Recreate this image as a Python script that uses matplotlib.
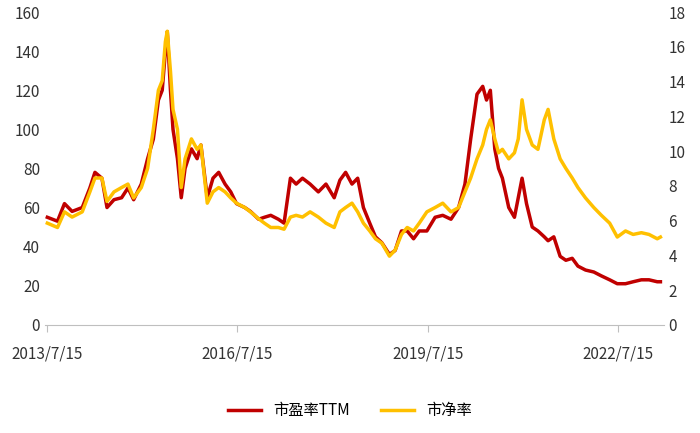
import matplotlib
matplotlib.use("Agg")
import matplotlib.pyplot as plt

plt.rcParams['font.family'] = ['Noto Sans CJK SC', 'DejaVu Sans']

# decimal years
years = [2013.54, 2013.70, 2013.81, 2013.93, 2014.09, 2014.21, 2014.29, 2014.40, 2014.48, 2014.59,
         2014.71, 2014.81, 2014.90, 2015.02, 2015.12, 2015.21, 2015.29, 2015.35, 2015.40, 2015.43,
         2015.48, 2015.52, 2015.59, 2015.65, 2015.71, 2015.81, 2015.90, 2015.96, 2016.06, 2016.15,
         2016.24, 2016.34, 2016.43, 2016.52, 2016.65, 2016.74, 2016.87, 2016.96, 2017.06, 2017.18,
         2017.27, 2017.37, 2017.46, 2017.56, 2017.68, 2017.81, 2017.93, 2018.06, 2018.15, 2018.24,
         2018.34, 2018.43, 2018.52, 2018.62, 2018.71, 2018.81, 2018.93, 2019.02, 2019.12, 2019.21,
         2019.31, 2019.40, 2019.52, 2019.65, 2019.77, 2019.90, 2020.02, 2020.12, 2020.21, 2020.31,
         2020.40, 2020.46, 2020.52, 2020.59, 2020.65, 2020.71, 2020.81, 2020.90, 2020.96, 2021.02,
         2021.09, 2021.18, 2021.27, 2021.37, 2021.43, 2021.52, 2021.62, 2021.71, 2021.81, 2021.90,
         2022.02, 2022.15, 2022.27, 2022.40, 2022.52, 2022.65, 2022.77, 2022.90, 2023.02, 2023.15,
         2023.20]

pe = [55, 53, 62, 58, 60, 70, 78, 75, 60, 64,
      65, 70, 64, 72, 85, 95, 115, 120, 140, 150,
      120, 100, 85, 65, 80, 90, 85, 92, 65, 75,
      78, 72, 68, 62, 60, 58, 54, 55, 56, 54,
      52, 75, 72, 75, 72, 68, 72, 65, 74, 78,
      72, 75, 60, 52, 45, 42, 36, 38, 48, 48,
      44, 48, 48, 55, 56, 54, 60, 72, 95, 118,
      122, 115, 120, 90, 80, 75, 60, 55, 65, 75,
      62, 50, 48, 45, 43, 45, 35, 33, 34, 30,
      28, 27, 25, 23, 21, 21, 22, 23, 23, 22,
      22]

pb = [5.85, 5.6, 6.5, 6.2, 6.5, 7.65, 8.45, 8.45, 7.1, 7.65,
      7.9, 8.1, 7.3, 7.9, 9.0, 11.25, 13.5, 14.05, 16.3, 16.9,
      14.6, 12.4, 11.25, 7.9, 9.55, 10.7, 10.1, 10.35, 7.0, 7.65,
      7.9, 7.65, 7.3, 7.0, 6.75, 6.5, 6.1, 5.85, 5.6, 5.6,
      5.5, 6.2, 6.3, 6.2, 6.5, 6.2, 5.85, 5.6, 6.5, 6.75,
      7.0, 6.5, 5.85, 5.4, 4.95, 4.7, 3.95, 4.3, 5.2, 5.6,
      5.4, 5.85, 6.5, 6.75, 7.0, 6.5, 6.75, 7.65, 8.45, 9.55,
      10.35, 11.25, 11.8, 10.7, 9.9, 10.1, 9.55, 9.9, 10.7, 12.95,
      11.25, 10.35, 10.1, 11.8, 12.4, 10.7, 9.55, 9.0, 8.45, 7.9,
      7.3, 6.75, 6.3, 5.85, 5.05, 5.4, 5.2, 5.3, 5.2, 4.95,
      5.05]

tick_pos = [2013.536, 2016.536, 2019.536, 2022.536]
tick_labels = ['2013/7/15', '2016/7/15', '2019/7/15', '2022/7/15']

fig = plt.figure(figsize=(7, 4.33), dpi=100)
ax = fig.add_axes([0.064, 0.25, 0.884, 0.722])
ax2 = ax.twinx()

l1, = ax.plot(years, pe, color='#C00000', lw=2.5, label='市盈率TTM')
l2, = ax2.plot(years, pb, color='#FFC000', lw=2.5, label='市净率')

ax.set_ylim(0, 160)
ax.set_yticks(range(0, 161, 20))
ax2.set_ylim(0, 18)
ax2.set_yticks(range(0, 19, 2))
ax.set_xlim(2013.5, 2023.25)
ax.set_xticks(tick_pos)
ax.set_xticklabels(tick_labels)

for a in (ax, ax2):
    for s in ('top', 'left', 'right'):
        a.spines[s].set_visible(False)
    a.tick_params(axis='y', length=0, labelsize=11, colors='#333333')
ax.spines['bottom'].set_color('#BFBFBF')
ax.tick_params(axis='x', length=5, color='#BFBFBF', labelsize=11, colors='#333333', pad=10)
ax2.spines['bottom'].set_visible(False)

fig.legend(handles=[l1, l2], loc='lower center', bbox_to_anchor=(0.5, 0.0),
           ncol=2, frameon=False, fontsize=11, handlelength=2.2)

fig.savefig('out.png')
